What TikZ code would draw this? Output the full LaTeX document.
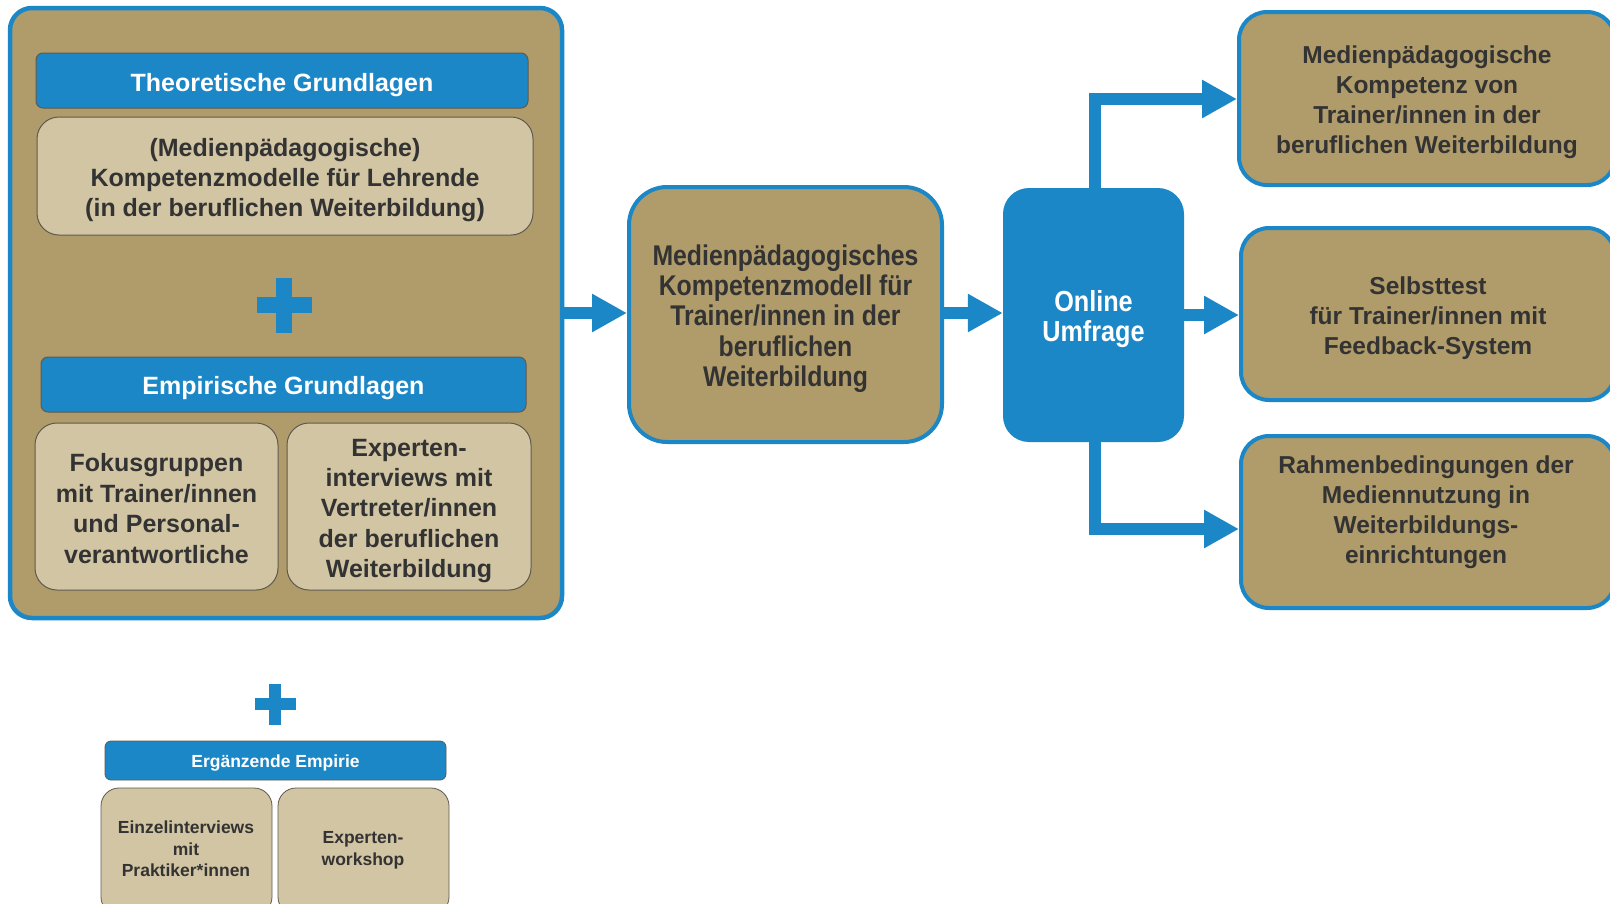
\documentclass[tikz,border=0pt]{standalone}
\usepackage{fontspec}
\setmainfont{Liberation Sans}
\newfontfamily\narrowsf[FakeStretch=0.87]{Liberation Sans}
\usetikzlibrary{arrows.meta}
\definecolor{tanfill}{RGB}{176,156,106}
\definecolor{lighttan}{RGB}{210,197,163}
\definecolor{bblue}{RGB}{28,135,199}
\definecolor{txt}{RGB}{51,51,51}
\definecolor{edgegray}{RGB}{95,90,80}
\tikzset{
  outerbox/.style={draw=bblue, line width=4.5pt, fill=tanfill, rounded corners=22pt, inner sep=0pt},
  bluebar/.style={draw=edgegray, line width=1pt, fill=bblue, rounded corners=7pt, inner sep=0pt},
  bartext/.style={inner sep=0pt, text=white, font=\bfseries\fontsize{25pt}{30pt}\selectfont},
  smallbar/.style={draw=edgegray, line width=0.8pt, fill=bblue, rounded corners=6pt, inner sep=0pt},
  smallbartext/.style={inner sep=0pt, text=white, font=\bfseries\fontsize{17.5pt}{21.6pt}\selectfont},
  lightbox/.style={draw=edgegray, line width=1pt, fill=lighttan, rounded corners=22pt, inner sep=0pt},
  lighttext/.style={inner sep=0pt, align=center, text=txt, font=\bfseries\fontsize{25pt}{30.4pt}\selectfont},
  smalllight/.style={draw=edgegray, line width=0.8pt, fill=lighttan, rounded corners=18pt, inner sep=0pt},
  smalltext/.style={inner sep=0pt, align=center, text=txt, font=\bfseries\fontsize{17.5pt}{21.6pt}\selectfont},
  modelbox/.style={draw=bblue, line width=4pt, fill=tanfill, rounded corners=38pt, inner sep=0pt},
  modeltext/.style={inner sep=0pt, align=center, text=txt, font=\narrowsf\bfseries\fontsize{28.5pt}{30.3pt}\selectfont},
  surveybox/.style={fill=bblue, rounded corners=26pt, inner sep=0pt},
  surveytext/.style={inner sep=0pt, align=center, text=white, font=\narrowsf\bfseries\fontsize{29pt}{30pt}\selectfont},
  resultbox/.style={draw=bblue, line width=4pt, fill=tanfill, rounded corners=28pt, inner sep=0pt},
  resulttext/.style={align=center, text=txt, inner sep=0pt, font=\bfseries\fontsize{24.5pt}{30pt}\selectfont},
  flow/.style={draw=bblue, line width=12pt, -{Triangle[length=35pt, width=36pt]}},
}
\begin{document}
\begin{tikzpicture}[x=1pt, y=-1pt]
\useasboundingbox (0,0) rectangle (1610,903);
\clip (0,0) rectangle (1610,903);
\fill[white] (0,0) rectangle (1610,903);

% left block
\node[outerbox, minimum width=552pt, minimum height=610pt] (outer) at (286,313) {};
\node[bluebar, minimum width=492pt, minimum height=55pt] (tbar) at (282,80.5) {};
\node[bartext] (tbart) at ([yshift=-5pt]tbar.center) {Theoretische Grundlagen};
\node[lightbox, minimum width=496pt, minimum height=118pt] (tbox) at (285,176) {};
\node[lighttext] (tboxt) at ([yshift=-4pt]tbox.center)
  {(Medienpädagogische)\\Kompetenzmodelle für Lehrende\\(in der beruflichen Weiterbildung)};
\fill[bblue] (256.5,297) rectangle (311.5,313);
\fill[bblue] (276,277.5) rectangle (292,332.5);
\node[bluebar, minimum width=485pt, minimum height=55pt] (ebar) at (283.5,384.5) {};
\node[bartext] (ebart) at ([yshift=-4pt]ebar.center) {Empirische Grundlagen};
\node[lightbox, minimum width=243pt, minimum height=167pt] (fbox) at (156.5,506.5) {};
\node[lighttext] (fboxt) at ([yshift=-2pt]fbox.center)
  {Fokusgruppen\\mit Trainer/innen\\und Personal-\\verantwortliche};
\node[lightbox, minimum width=244pt, minimum height=167pt] (xbox) at (409,506.5) {};
\node[lighttext] (xboxt) at ([yshift=-4.5pt]xbox.center)
  {Experten-\\interviews mit\\Vertreter/innen\\der beruflichen\\Weiterbildung};

% model and survey
\node[modelbox, minimum width=313pt, minimum height=255pt] (model) at (785.5,314.5) {};
\node[modeltext] (modelt) at ([yshift=-4pt]model.center)
  {Medienpädagogisches\\Kompetenzmodell für\\Trainer/innen in der\\beruflichen\\Weiterbildung};
\node[surveybox, minimum width=181pt, minimum height=254pt] (survey) at (1093.5,315) {};
\node[surveytext] (surveyt) at ([yshift=-4pt]survey.center) {Online\\Umfrage};

% results
\node[resultbox, minimum width=376pt, minimum height=173pt] (r1) at (1427,98.5) {};
\node[resulttext] (r1t) at ([yshift=-4pt]r1.center)
  {Medienpädagogische\\Kompetenz von\\Trainer/innen in der\\beruflichen Weiterbildung};
\node[resultbox, minimum width=374pt, minimum height=172pt] (r2) at (1428,314) {};
\node[resulttext] (r2t) at ([yshift=-4pt]r2.center)
  {Selbsttest\\für Trainer/innen mit\\Feedback-System};
\node[resultbox, minimum width=374pt, minimum height=172pt] (r3) at (1428,522) {};
\node[resulttext] (r3t) at (1426,512.5)
  {Rahmenbedingungen der\\Mediennutzung in\\Weiterbildungs-\\einrichtungen};

% arrows
\coordinate (c1) at (outer.east |- 0,313);
\draw[flow] (c1) -- (model.west |- c1);
\draw[flow] (model.east |- c1) -- (survey.west |- c1);
\coordinate (c3) at (survey.east |- 0,315);
\draw[flow] (c3) -- (r2.west |- c3);
\coordinate (top) at (1095,188);
\draw[flow] (top) -- (1095,99) -- (r1.west |- 0,99);
\coordinate (bot) at (1095,442);
\draw[flow] (bot) -- (1095,529) -- (r3.west |- 0,529);

% supplementary empirics
\fill[bblue] (254.5,698) rectangle (295.5,710);
\fill[bblue] (269,683.5) rectangle (281,724.5);
\node[smallbar, minimum width=341pt, minimum height=39pt] (bbar) at (275.5,760.5) {};
\node[smallbartext] (bbart) at ([yshift=-3pt]bbar.center) {Ergänzende Empirie};
\node[smalllight, minimum width=171pt, minimum height=127pt] (bb1) at (186.5,851.5) {};
\node[smalllight, minimum width=171pt, minimum height=127pt] (bb2) at (363.5,851.5) {};
\node[smalltext] (bb1t) at (186,849) {Einzelinterviews\\mit\\Praktiker*innen};
\node[smalltext] (bb2t) at (363,850) {Experten-\\workshop};
\end{tikzpicture}
\end{document}
